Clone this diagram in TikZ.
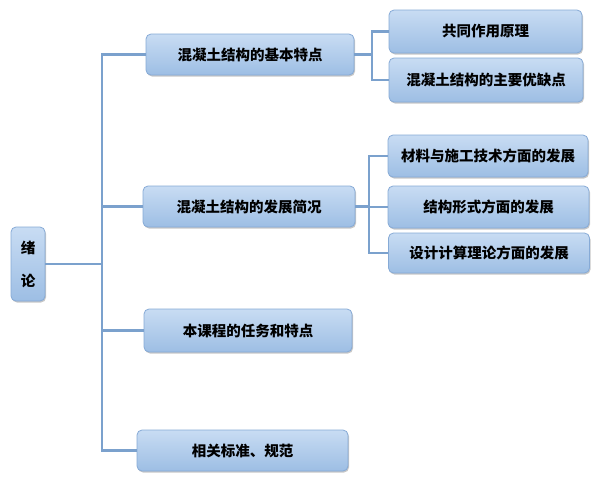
\documentclass[tikz,border=0pt]{standalone}
\usepackage{fontspec}
\newfontfamily\cjk{Noto Sans CJK SC}
\usetikzlibrary{shadows}
\definecolor{boxtop}{HTML}{C8DCF3}
\definecolor{boxbot}{HTML}{9DBEE4}
\definecolor{boxline}{HTML}{86AAD6}
\definecolor{conncol}{HTML}{7BA1CD}
\tikzset{
  box/.style={rectangle, rounded corners=5pt, draw=boxline, line width=0.8pt,
    top color=boxtop, bottom color=boxbot, inner sep=0pt,
    font=\cjk\bfseries\fontsize{14.5}{17}\selectfont, text=black,
    drop shadow={shadow xshift=1pt, shadow yshift=-1.5pt, opacity=0.22, fill=black}},
  conn/.style={draw=conncol, line width=2.6pt, line cap=butt, line join=miter}
}
\begin{document}
\begin{tikzpicture}[x=1pt,y=-1pt]
\useasboundingbox (0,0) rectangle (595,477);
\fill[white] (0,0) rectangle (595,477);
% nodes
\node[box, minimum width=34pt, minimum height=74pt, align=center,
  font=\cjk\bfseries\fontsize{14.5}{33}\selectfont] (root) at (28,264) {绪\\论};
\node[box, minimum width=208pt, minimum height=41pt] (b1) at (250,54.5) {混凝土结构的基本特点};
\node[box, minimum width=212pt, minimum height=41pt] (b2) at (249,206.5) {混凝土结构的发展简况};
\node[box, minimum width=208pt, minimum height=43pt] (b3) at (248,330.5) {本课程的任务和特点};
\node[box, minimum width=211pt, minimum height=41pt] (b4) at (242.5,450.5) {相关标准、规范};
\node[box, minimum width=193pt, minimum height=43pt] (A) at (485.5,31.5) {共同作用原理};
\node[box, minimum width=194pt, minimum height=44pt] (B) at (486,80) {混凝土结构的主要优缺点};
\node[box, minimum width=200pt, minimum height=42pt] (C) at (488,156) {材料与施工技术方面的发展};
\node[box, minimum width=201pt, minimum height=42pt] (D) at (488.5,207) {结构形式方面的发展};
\node[box, minimum width=201pt, minimum height=40pt] (E) at (489,253) {设计计算理论方面的发展};
% trunk coordinates
\coordinate (trunk) at (102,0);
\coordinate (g1) at (372,0);
\coordinate (g2) at (369,0);
% connectors
\draw[conn] (b1.west) -- (b1.west -| trunk) -- (b4.west -| trunk) -- (b4.west);
\draw[conn] (root.east) -- (root.east -| trunk);
\draw[conn] (b2.west) -- (b2.west -| trunk);
\draw[conn] (b3.west) -- (b3.west -| trunk);
\draw[conn] (b1.east) -- (b1.east -| g1);
\draw[conn] (A.west) -- (A.west -| g1) -- (B.west -| g1) -- (B.west);
\draw[conn] (b2.east) -- (b2.east -| g2);
\draw[conn] (C.west) -- (C.west -| g2) -- (E.west -| g2) -- (E.west);
\draw[conn] (D.west) -- (D.west -| g2);
\end{tikzpicture}
\end{document}
